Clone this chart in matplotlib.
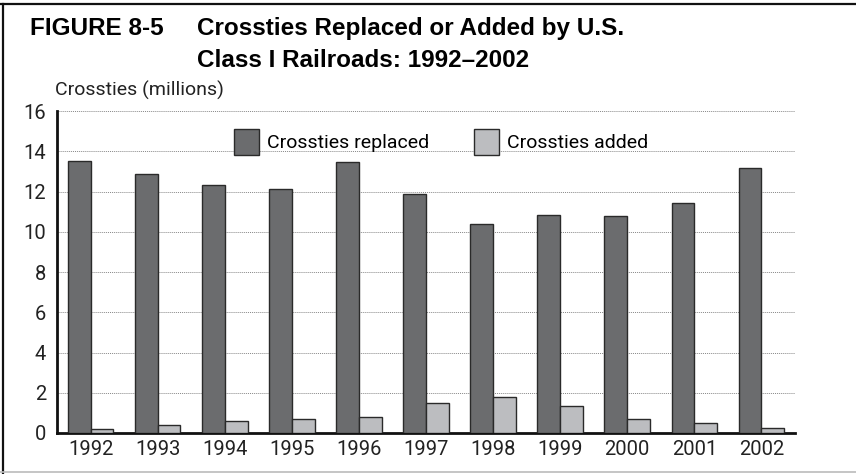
import numpy as np
import matplotlib.pyplot as plt
from matplotlib.lines import Line2D
from matplotlib.patches import Patch

# Données (millions de traverses)
years = ['1992', '1993', '1994', '1995', '1996', '1997', '1998', '1999', '2000', '2001', '2002']
replaced = [13.53, 12.87, 12.30, 12.10, 13.48, 11.87, 10.41, 10.83, 10.78, 11.44, 13.17]
added = [0.20, 0.40, 0.61, 0.70, 0.81, 1.49, 1.81, 1.34, 0.70, 0.50, 0.26]

narrow = ['Liberation Sans Narrow', 'Roboto', 'DejaVu Sans']
bold = ['Liberation Sans', 'DejaVu Sans']

dark = '#6b6c6e'
light = '#bcbdc0'
edge = '#2a2a2a'

fig = plt.figure(figsize=(8.56, 4.74), dpi=100)
ax = fig.add_axes([0.0666, 0.0865, 0.8621, 0.6793])

x = np.arange(len(years))
w = 0.34
ax.bar(x - w / 2, replaced, w, color=dark, edgecolor=edge, linewidth=1.0, zorder=3)
ax.bar(x + w / 2, added, w, color=light, edgecolor=edge, linewidth=1.0, zorder=3)

ax.set_xlim(-0.5, len(years) - 0.5)
ax.set_ylim(0, 16)
ax.set_yticks(range(0, 17, 2))
ax.set_xticks(x)
ax.set_xticklabels(years)
ax.tick_params(length=0, labelsize=14.5, colors='#222222', pad=5)
for lab in ax.get_xticklabels() + ax.get_yticklabels():
    lab.set_family(narrow)
ax.tick_params(axis='y', pad=8)

ax.yaxis.grid(True, linestyle=(0, (1, 1)), color='#888888', linewidth=0.7, zorder=0)
for s in ['top', 'right']:
    ax.spines[s].set_visible(False)
ax.spines['left'].set_linewidth(2)
ax.spines['bottom'].set_linewidth(2)
ax.spines['left'].set_color('#111111')
ax.spines['bottom'].set_color('#111111')

handles = [Patch(facecolor=dark, edgecolor=edge, label='Crossties replaced'),
           Patch(facecolor=light, edgecolor=edge, label='Crossties added')]
leg = ax.legend(handles=handles, loc='upper center', bbox_to_anchor=(0.52, 1.0), ncol=2,
                frameon=False, prop={'family': narrow, 'size': 14},
                handlelength=1.3, handleheight=1.7, columnspacing=2.3, handletextpad=0.4)

# Titre
fig.text(0.035, 0.94, 'FIGURE 8-5', family=bold, weight='bold', fontsize=17.5, va='center')
fig.text(0.23, 0.94, 'Crossties Replaced or Added by U.S.', family=bold, weight='bold',
         fontsize=17.5, va='center')
fig.text(0.23, 0.873, 'Class I Railroads: 1992\u20132002', family=bold, weight='bold',
         fontsize=17.5, va='center')
fig.text(0.064, 0.81, 'Crossties (millions)', family=narrow, fontsize=14, va='center',
         color='#222222')

# Cadre
fig.add_artist(Line2D([0, 1], [0.992, 0.992], color='#111111', linewidth=1.6))
fig.add_artist(Line2D([0.003, 0.003], [0.003, 0.992], color='#111111', linewidth=1.6))
fig.add_artist(Line2D([0, 1], [0.004, 0.004], color='#bbbbbb', linewidth=1.2))

plt.savefig('out.png', dpi=100)
